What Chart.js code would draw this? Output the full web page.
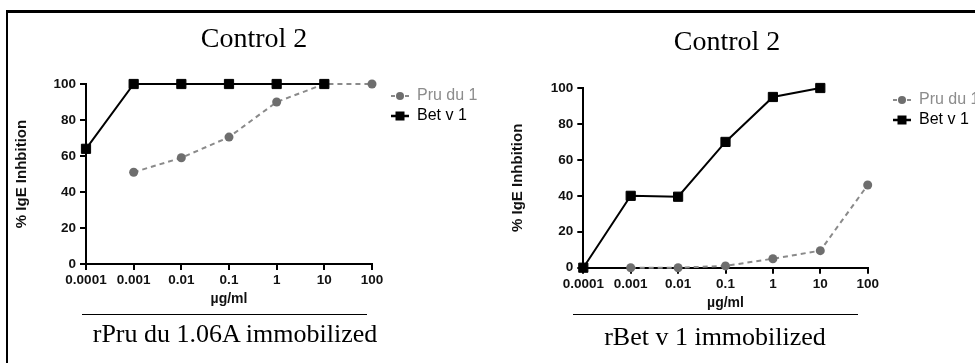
<!DOCTYPE html>
<html>
<head>
<meta charset="utf-8">
<script src="https://cdn.jsdelivr.net/npm/chart.js@4.4.1/dist/chart.umd.min.js"></script>
<style>
  html, body { margin:0; padding:0; background:#fff; }
  #wrap { position:relative; width:975px; height:363px; overflow:hidden; background:#fff; }
  .frame { position:absolute; left:6px; top:10px; width:1100px; height:500px; border-left:2.5px solid #000; border-top:3px solid #000; }
  .panel { position:absolute; top:0; height:363px; }
  .ttl { position:absolute; font-family:"Liberation Serif","Times New Roman",serif; color:#000; white-space:nowrap; line-height:1; transform:translateX(-50%); }
  .rule { position:absolute; height:0; border-top:1.6px solid #000; }
</style>
</head>
<body>
<div id="wrap">
  <div class="frame"></div>
  <div class="panel" style="left:0;width:490px;"><canvas id="c1" width="490" height="363"></canvas></div>
  <div class="panel" style="left:490px;width:485px;"><canvas id="c2" width="485" height="363"></canvas></div>
  <div class="ttl" style="left:254px;top:24px;font-size:28px;">Control 2</div>
  <div class="ttl" style="left:727px;top:27px;font-size:28px;">Control 2</div>
  <div class="rule" style="left:82px;top:314px;width:285px;"></div>
  <div class="rule" style="left:573px;top:314px;width:285px;"></div>
  <div class="ttl" style="left:235px;top:321px;font-size:26px;">rPru du 1.06A immobilized</div>
  <div class="ttl" style="left:715px;top:324px;font-size:26px;">rBet v 1 immobilized</div>
</div>
<script>
// ---- data ----
const doses = ['0.0001', '0.001', '0.01', '0.1', '1', '10', '100'];
const seriesNames = ['Pru du 1', 'Bet v 1'];
const leftPru  = [null, 51, 59, 70.5, 90, 100, 100];
const leftBet  = [64, 100, 100, 100, 100, 100, null];
const rightPru = [null, 0, 0, 1, 5, 9.5, 46];
const rightBet = [0, 40, 39.5, 70, 95, 100, null];
const yAxisTitle = '% IgE Inhbition';
const xAxisTitle = 'µg/ml';

const SANS = '"Liberation Sans", Arial, sans-serif';
const PRU_LINE = '#8a8a8a', PRU_PT = '#6e6e6e';

function legendPlugin(lx, ly) {
  return {
    id: 'customLegend',
    afterDraw(chart) {
      const ctx = chart.ctx;
      ctx.save();
      let y = ly;
      ctx.strokeStyle = PRU_LINE; ctx.lineWidth = 2; ctx.setLineDash([4, 3]);
      ctx.beginPath(); ctx.moveTo(lx, y); ctx.lineTo(lx + 18, y); ctx.stroke();
      ctx.setLineDash([]);
      ctx.fillStyle = PRU_PT; ctx.beginPath(); ctx.arc(lx + 9, y, 4, 0, Math.PI * 2); ctx.fill();
      ctx.font = '16px ' + SANS; ctx.textBaseline = 'middle'; ctx.textAlign = 'left';
      ctx.fillStyle = '#8c8c8c'; ctx.fillText(seriesNames[0], lx + 26, y);
      y = ly + 20;
      ctx.strokeStyle = '#000'; ctx.lineWidth = 2.5;
      ctx.beginPath(); ctx.moveTo(lx, y); ctx.lineTo(lx + 18, y); ctx.stroke();
      ctx.fillStyle = '#000'; ctx.fillRect(lx + 4.5, y - 4.5, 9, 9);
      ctx.fillStyle = '#000'; ctx.fillText(seriesNames[1], lx + 26, y);
      ctx.restore();
    }
  };
}

function makeChart(id, pru, bet, pad, yTitlePad, legendPos) {
  const axisCommon = {
    grid: { display: true, drawOnChartArea: false, drawTicks: true, tickLength: 6, color: '#000', lineWidth: 2 },
    border: { display: true, color: '#000', width: 2 },
  };
  return new Chart(document.getElementById(id), {
    type: 'line',
    data: {
      labels: doses,
      datasets: [
        { label: seriesNames[0], data: pru, order: 1, borderColor: PRU_LINE, borderWidth: 2, borderDash: [5, 4],
          pointStyle: 'circle', pointRadius: 4.5, pointBackgroundColor: PRU_PT, pointBorderColor: PRU_PT, pointBorderWidth: 0,
          tension: 0, spanGaps: false, clip: false },
        { label: seriesNames[1], data: bet, order: 0, borderColor: '#000', borderWidth: 2,
          pointStyle: 'rect', pointRadius: 6.5, pointBackgroundColor: '#000', pointBorderColor: '#000', pointBorderWidth: 1,
          tension: 0, clip: false }
      ]
    },
    options: {
      responsive: false, animation: false, devicePixelRatio: 1,
      layout: { padding: pad },
      plugins: { legend: { display: false }, tooltip: { enabled: false }, title: { display: false } },
      scales: {
        x: Object.assign({}, axisCommon, {
          type: 'category', offset: false,
          ticks: { color: '#111', font: { family: SANS, size: 13.5, weight: 'bold' }, padding: 2, maxRotation: 0, autoSkip: false },
          title: { display: true, text: xAxisTitle, color: '#111', font: { family: SANS, size: 14, weight: 'bold' }, padding: { top: 0, bottom: 1 } },
          afterFit(s) { s.height = 45; }
        }),
        y: Object.assign({}, axisCommon, {
          min: 0, max: 100,
          ticks: { stepSize: 20, color: '#111', font: { family: SANS, size: 13.5, weight: 'bold' }, padding: 4 },
          title: { display: true, text: yAxisTitle, color: '#111', font: { family: SANS, size: 15, weight: 'bold' }, padding: { top: yTitlePad, bottom: 0 } },
          afterFit(s) { s.width = 80; }
        })
      }
    },
    plugins: [legendPlugin(legendPos[0], legendPos[1])]
  });
}

makeChart('c1', leftPru, leftBet, { left: 6, right: 118, top: 84, bottom: 54 }, 7, [391, 96]);
makeChart('c2', rightPru, rightBet, { left: 13.3, right: 107.3, top: 88, bottom: 50.3 }, 5.7, [403, 100]);
</script>
</body>
</html>
